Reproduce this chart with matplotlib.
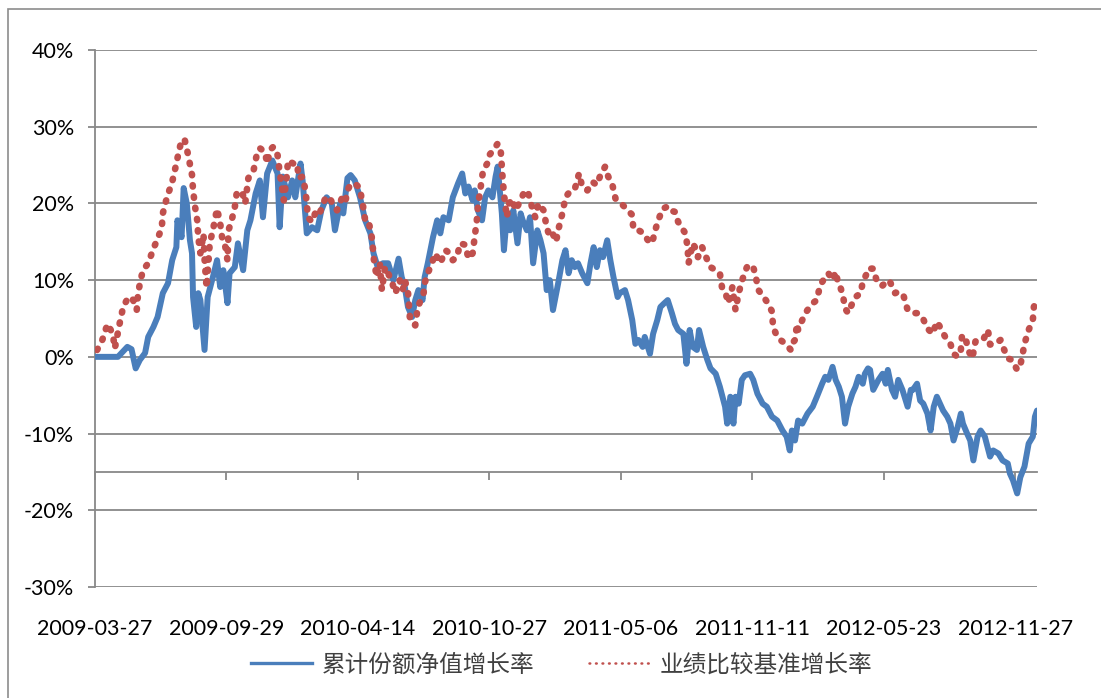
import numpy as np
import matplotlib
matplotlib.use('Agg')
import matplotlib.pyplot as plt
from matplotlib.lines import Line2D
from matplotlib.patches import Rectangle

# trading-day index (126 per label) and growth rates in %
nav_day = [0, 12, 22, 31, 35, 39, 43, 48, 51, 56, 60, 65, 70, 74, 78, 79, 83, 85, 88, 91,
           93, 94, 97, 99, 101, 105, 108, 113, 117, 120, 123, 127, 129, 134, 137, 142, 146, 149, 154, 158,
           161, 165, 170, 175, 177, 180, 185, 189, 192, 197, 199, 203, 208, 213, 217, 222, 227, 230, 235, 238,
           242, 245, 249, 254, 259, 264, 267, 271, 276, 281, 286, 291, 294, 297, 300, 304, 307, 310, 314, 316,
           319, 324, 328, 331, 334, 339, 343, 348, 352, 355, 358, 362, 364, 367, 371, 374, 377, 381, 384, 386,
           390, 392, 395, 398, 401, 405, 408, 410, 414, 417, 420, 424, 427, 430, 433, 436, 439, 444, 448, 451,
           454, 457, 460, 463, 467, 472, 475, 478, 481, 484, 487, 491, 494, 497, 501, 503, 508, 511, 515, 518,
           521, 525, 527, 532, 535, 539, 542, 545, 549, 553, 556, 559, 564, 567, 570, 573, 577, 579, 583, 587,
           590, 595, 599, 604, 606, 609, 612, 614, 617, 620, 623, 628, 631, 635, 640, 644, 649, 654, 659, 663,
           666, 668, 671, 674, 678, 683, 688, 692, 697, 700, 703, 707, 710, 713, 716, 719, 722, 726, 729, 732,
           736, 738, 741, 743, 746, 751, 755, 758, 760, 764, 767, 770, 774, 779, 782, 784, 788, 791, 794, 798,
           801, 804, 807, 810, 813, 817, 820, 823, 827, 830, 832, 836, 839, 842, 846, 849, 853, 858, 861, 866,
           870, 875, 877, 880, 884, 887, 891, 895, 899, 901, 903]
nav_pct = [0, 0, 0, 1.3, 1.0, -1.5, -0.4, 0.5, 2.6, 3.9, 5.2, 8.3, 9.6, 12.6, 14.3, 17.8, 15.6, 22.0, 20.0, 15.2,
           13.5, 7.8, 3.9, 8.3, 7.4, 0.9, 7.8, 10.4, 12.6, 9.1, 11.3, 7.0, 10.9, 11.7, 14.8, 11.3, 16.5, 17.8, 21.3, 23.0,
           18.2, 23.9, 25.6, 23.9, 16.9, 23.5, 20.8, 23.0, 20.8, 25.2, 23.0, 16.1, 16.9, 16.5, 19.1, 20.8, 20.0, 16.5, 20.0, 18.7,
           23.3, 23.7, 23.0, 20.8, 17.8, 16.1, 13.5, 11.7, 12.2, 12.2, 10.0, 12.8, 10.4, 9.1, 6.5, 5.2, 7.4, 8.7, 7.4, 10.4,
           12.2, 15.6, 17.8, 16.1, 18.2, 17.8, 20.8, 22.6, 23.9, 21.3, 22.2, 20.4, 21.7, 19.1, 17.8, 20.8, 21.7, 20.8, 23.5, 24.8,
           18.7, 13.9, 18.7, 16.5, 19.1, 14.8, 18.7, 17.8, 16.5, 18.2, 12.2, 16.5, 15.2, 13.5, 8.7, 10.0, 6.1, 9.6, 12.6, 13.9,
           10.9, 12.6, 11.7, 12.2, 10.9, 9.6, 12.2, 14.3, 11.7, 13.9, 13.0, 15.2, 12.6, 10.4, 7.8, 8.3, 8.7, 7.4, 4.8, 1.7,
           2.2, 1.3, 2.6, 0.4, 3.0, 4.8, 6.5, 6.9, 7.4, 5.7, 4.3, 3.5, 3.0, -0.9, 3.5, 1.3, 0.9, 3.5, 1.3, -0.4,
           -1.5, -2.2, -3.9, -6.5, -8.7, -5.2, -8.7, -5.2, -6.1, -3.0, -2.4, -2.2, -3.0, -4.8, -6.1, -6.5, -7.8, -8.3, -9.6, -10.4,
           -12.2, -9.6, -10.9, -8.3, -8.7, -7.4, -6.5, -5.2, -3.5, -2.6, -3.0, -1.3, -3.0, -3.9, -5.2, -8.7, -6.5, -4.8, -3.9, -2.6,
           -3.5, -2.2, -1.5, -1.7, -4.3, -3.0, -2.2, -3.5, -1.7, -4.3, -5.2, -3.0, -4.3, -6.5, -4.3, -4.3, -3.5, -5.7, -6.1, -7.4,
           -9.6, -6.5, -5.2, -6.1, -7.0, -7.8, -8.7, -10.9, -9.1, -7.4, -8.7, -10.0, -10.9, -13.5, -10.4, -9.6, -10.4, -13.0, -12.2, -12.6,
           -13.5, -13.9, -15.2, -16.1, -17.8, -15.7, -14.3, -11.3, -10.4, -7.8, -7.0]

bench_day = [2, 7, 12, 17, 19, 24, 27, 32, 36, 40, 41, 43, 46, 51, 56, 60, 64, 65, 69, 74,
             77, 80, 83, 86, 89, 93, 94, 96, 98, 99, 101, 104, 105, 107, 110, 113, 117, 120, 122, 125,
             127, 128, 131, 134, 136, 141, 144, 147, 152, 155, 158, 163, 165, 168, 171, 175, 177, 179, 181, 184,
             185, 190, 194, 195, 199, 201, 203, 204, 208, 211, 214, 218, 221, 225, 228, 232, 237, 240, 242, 245,
             249, 254, 256, 257, 259, 262, 265, 266, 267, 269, 270, 273, 275, 278, 281, 285, 288, 291, 292, 295,
             297, 300, 302, 307, 309, 312, 315, 316, 319, 323, 326, 331, 336, 340, 343, 347, 350, 355, 358, 362,
             364, 366, 367, 369, 371, 372, 376, 378, 382, 386, 389, 390, 391, 393, 395, 396, 400, 403, 408, 412,
             415, 419, 422, 425, 430, 433, 436, 439, 442, 444, 448, 451, 456, 460, 464, 467, 472, 477, 481, 484,
             489, 492, 496, 499, 503, 508, 511, 515, 516, 521, 526, 530, 534, 537, 540, 544, 549, 551, 556, 559,
             563, 566, 568, 569, 573, 575, 578, 582, 587, 590, 595, 599, 601, 604, 607, 611, 614, 617, 620, 623,
             626, 631, 633, 636, 641, 645, 649, 650, 654, 657, 662, 667, 668, 671, 673, 674, 678, 681, 684, 688,
             692, 695, 700, 703, 707, 710, 712, 714, 717, 719, 722, 726, 729, 734, 736, 740, 741, 746, 750, 755,
             760, 762, 767, 770, 775, 779, 784, 788, 793, 798, 803, 807, 810, 815, 820, 823, 827, 830, 831, 834,
             837, 841, 844, 847, 852, 856, 858, 863, 868, 871, 875, 879, 884, 887, 889, 891, 895, 899, 900, 903]
bench_pct = [0.9, 2.2, 4.3, 3.0, 1.1, 4.6, 6.5, 7.8, 7.6, 6.1, 7.8, 9.6, 11.3, 12.2, 14.1, 15.4, 16.8, 18.7, 20.8, 22.8,
             24.6, 26.5, 28.3, 28.3, 26.5, 23.7, 21.7, 19.5, 17.8, 15.6, 13.5, 16.0, 12.8, 9.0, 14.8, 16.5, 19.3, 17.4, 15.4, 14.3,
             12.6, 16.5, 17.8, 19.5, 21.5, 21.5, 20.0, 23.3, 24.3, 26.3, 27.2, 26.7, 25.2, 27.0, 27.4, 26.3, 24.1, 22.2, 20.4, 23.7,
             25.6, 25.2, 25.2, 23.3, 23.5, 22.2, 20.2, 18.2, 17.6, 18.7, 18.3, 19.6, 20.8, 20.8, 19.8, 19.1, 20.8, 20.2, 21.7, 22.5,
             22.6, 22.0, 20.2, 19.6, 17.8, 17.8, 15.9, 14.8, 13.0, 11.3, 10.4, 12.2, 8.7, 11.7, 10.9, 9.6, 8.3, 9.6, 10.0, 8.7,
             10.0, 8.5, 4.8, 4.1, 6.1, 7.4, 8.3, 9.6, 10.9, 12.2, 13.5, 12.2, 13.9, 13.5, 12.6, 13.0, 14.8, 14.6, 12.8, 13.5,
             15.6, 17.8, 19.5, 21.5, 23.3, 24.3, 25.2, 26.3, 27.0, 27.8, 26.7, 24.8, 22.8, 20.0, 18.2, 19.8, 20.6, 19.1, 20.4, 21.7,
             21.5, 19.5, 18.2, 20.0, 19.1, 16.9, 15.6, 16.0, 15.0, 16.5, 18.7, 20.8, 21.7, 21.9, 23.9, 22.2, 21.7, 22.8, 22.4, 23.5,
             24.8, 23.5, 22.4, 20.6, 20.2, 19.5, 19.1, 18.5, 16.7, 16.5, 16.1, 15.2, 14.8, 16.5, 17.8, 19.3, 19.6, 19.1, 18.9, 17.6,
             16.7, 16.1, 14.3, 12.2, 14.8, 14.3, 13.0, 14.3, 12.6, 11.7, 11.3, 10.9, 9.1, 8.6, 7.0, 9.1, 6.1, 8.3, 9.8, 11.1,
             12.0, 11.7, 10.7, 8.7, 7.8, 7.0, 5.9, 3.9, 2.6, 2.2, 1.7, 0.9, 1.7, 2.2, 4.3, 3.5, 4.8, 5.7, 6.3, 7.0,
             7.4, 9.3, 10.4, 10.9, 10.0, 11.1, 9.8, 9.3, 8.0, 6.3, 5.7, 7.0, 7.8, 8.3, 9.8, 10.9, 11.5, 11.5, 9.6, 9.3,
             10.0, 9.8, 8.3, 8.5, 8.0, 6.1, 5.7, 5.7, 5.2, 3.7, 3.0, 4.6, 3.9, 2.6, 1.7, 0.4, 0.0, 0.9, 2.6, 2.8,
             0.9, -0.2, 2.0, 2.4, 2.4, 3.5, 1.6, 1.7, 2.2, 1.1, -0.2, -0.4, -1.7, -1.1, 0.2, 1.7, 3.5, 4.8, 6.5, 7.8]

date_labels = ['2009-03-27', '2009-09-29', '2010-04-14', '2010-10-27',
               '2011-05-06', '2011-11-11', '2012-05-23', '2012-11-27']
tick_step = 126
n_days = 903
y_ticks = list(range(-30, 41, 10))

series_names = ['累计份额净值增长率', '业绩比较基准增长率']
blue = '#4A7EBB'
red = '#C0504D'
grey = '#888888'

fig = plt.figure(figsize=(11.01, 6.98), dpi=100)
ax = fig.add_axes([95/1101, 1 - 587/698, 942/1101, 537/698])

ax.plot(nav_day, nav_pct, color=blue, lw=4.3, solid_joinstyle='round',
        solid_capstyle='round', zorder=3)
ax.plot(bench_day, bench_pct, color=red, lw=4.8, linestyle=(0, (0.2, 1.5)),
        dash_capstyle='round', zorder=4)

ax.set_xlim(0, n_days)
ax.set_ylim(-30, 40)
ax.set_yticks(y_ticks)
ax.set_yticklabels([f'{v}%' for v in y_ticks])
ax.set_xticks(np.arange(len(date_labels)) * tick_step)
ax.set_xticklabels(date_labels)

ax.yaxis.grid(True, color=grey, lw=1.3)
ax.set_axisbelow(True)
for s in ['top', 'right']:
    ax.spines[s].set_visible(False)
ax.spines['bottom'].set_position(('data', -15))
ax.spines['bottom'].set_color(grey)
ax.spines['bottom'].set_linewidth(1.3)
ax.spines['left'].set_color(grey)
ax.spines['left'].set_linewidth(1.3)

tick_font = 'Lato'
ax.tick_params(axis='x', direction='out', length=5.8, width=1.3, color=grey,
               pad=100, labelsize=15.5)
ax.tick_params(axis='y', direction='out', length=5, width=1.3, color=grey,
               pad=10, labelsize=15.5)
for lab in ax.get_xticklabels() + ax.get_yticklabels():
    lab.set_fontfamily(tick_font)

# legend
h1 = Line2D([], [], color=blue, lw=2.4)
h2 = Line2D([], [], color=red, lw=1.8, linestyle=(0, (0.3, 2.3)), dash_capstyle='round')
leg = fig.legend([h1, h2], series_names, loc='center', bbox_to_anchor=(0.51, 1 - 665/698),
                 ncol=2, frameon=False, handlelength=2.6, handletextpad=0.4,
                 columnspacing=2.3, prop={'family': ['Noto Sans CJK SC', 'DejaVu Sans'], 'size': 17})
for t in leg.get_texts():
    t.set_color('#404040')

# outer chart border
fig.patches.append(Rectangle((8/1101, -0.1), 2, 1.1 - 9/698, transform=fig.transFigure,
                             fill=False, edgecolor='#8c8c8c', lw=1.2))

fig.savefig('out.png', dpi=100)
